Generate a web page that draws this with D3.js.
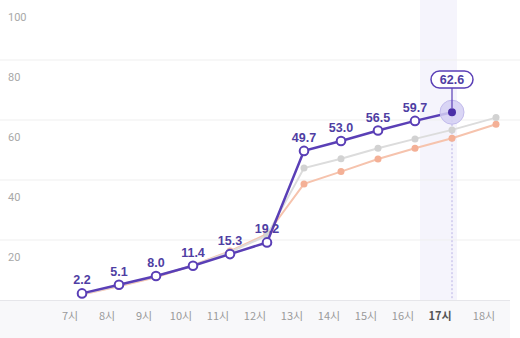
<!DOCTYPE html>
<html><head><meta charset="utf-8">
<script src="https://cdn.jsdelivr.net/npm/d3@7"></script>
<style>html,body{margin:0;padding:0;background:#fff;}svg{display:block;}</style>
</head><body>
<svg id="c" width="520" height="338"></svg>
<script>
const hours = ["7시","8시","9시","10시","11시","12시","13시","14시","15시","16시","17시","18시"];
const current = [2.2, 5.1, 8.0, 11.4, 15.3, 19.2, 49.7, 53.0, 56.5, 59.7, 62.6];
const compareGray = [2.0, 4.8, 7.9, 11.5, 16.0, 21.5, 44.0, 47.1, 50.6, 53.7, 56.7, 60.8];
const compareOrange = [1.8, 4.6, 7.6, 11.6, 16.3, 22.0, 38.7, 42.8, 47.0, 50.6, 53.9, 58.6];
const yTicks = [20, 40, 60, 80, 100];
const activeIndex = 10;

const svg = d3.select("#c");
const W = 520, H = 338;
const x = d3.scaleLinear().domain([0, 10, 11]).range([82, 452, 496]);
const y = d3.scaleLinear().domain([0, 100]).range([300, 0]);

// bottom strip
svg.append("rect").attr("x", 0).attr("y", y(0)).attr("width", 510).attr("height", H - y(0)).attr("fill", "#f8f8fa");

// active band
svg.append("rect").attr("x", x(activeIndex) - 32).attr("y", 0).attr("width", 37).attr("height", y(0))
  .attr("fill", "#f5f4fc");

// gridlines
svg.append("g").selectAll("line").data(yTicks.filter(d => d < 100)).join("line")
  .attr("x1", 0).attr("x2", W).attr("y1", d => y(d)).attr("y2", d => y(d))
  .attr("stroke", "#efefef").attr("stroke-width", 1);
svg.append("line").attr("x1", 0).attr("x2", 510).attr("y1", y(0) + 0.5).attr("y2", y(0) + 0.5)
  .attr("stroke", "#e6e6ea");

// y labels
svg.append("g").selectAll("text").data(yTicks).join("text")
  .attr("x", 8).attr("y", d => y(d) + 21)
  .attr("font-family", "Roboto, 'Noto Sans', sans-serif").attr("font-size", 11)
  .attr("fill", "#a8a8a8").text(d => d);

// x labels
svg.append("g").selectAll("text").data(hours).join("text")
  .attr("x", (d, i) => x(i) - 12).attr("y", 320).attr("text-anchor", "middle")
  .attr("font-family", "'Noto Sans CJK KR', sans-serif").attr("font-size", 11)
  .attr("font-weight", (d, i) => i === activeIndex ? "bold" : "normal")
  .attr("fill", (d, i) => i === activeIndex ? "#555" : "#9a9a9a").text(d => d);

// dashed guide
svg.append("line").attr("x1", x(activeIndex)).attr("x2", x(activeIndex))
  .attr("y1", y(current[activeIndex])).attr("y2", y(0))
  .attr("stroke", "#b9b2e6").attr("stroke-dasharray", "2,2").attr("stroke-width", 1);

const line = d3.line().x((d, i) => x(i)).y(d => y(d));

function series(data, color, ptColor, r) {
  svg.append("path").datum(data).attr("d", line).attr("fill", "none")
    .attr("stroke", color).attr("stroke-width", 2);
  svg.append("g").selectAll("circle").data(data).join("circle")
    .attr("cx", (d, i) => x(i)).attr("cy", d => y(d)).attr("r", 3.5).attr("fill", ptColor);
}
series(compareOrange, "#f6c3ad", "#f4b096");
series(compareGray, "#dcdcdc", "#d2d2d2");

// current line
svg.append("path").datum(current).attr("d", line).attr("fill", "none")
  .attr("stroke", "#5a3fb6").attr("stroke-width", 2.5);

// value labels
svg.append("g").selectAll("text").data(current.slice(0, activeIndex)).join("text")
  .attr("x", (d, i) => x(i)).attr("y", d => y(d) - 9).attr("text-anchor", "middle")
  .attr("font-family", "'Liberation Sans', Arial, sans-serif").attr("font-size", 12.5)
  .attr("font-weight", "bold").attr("fill", "#4f3ea3").text(d => d.toFixed(1));

svg.append("g").selectAll("circle").data(current.slice(0, activeIndex)).join("circle")
  .attr("cx", (d, i) => x(i)).attr("cy", d => y(d)).attr("r", 4.3)
  .attr("fill", "#fff").attr("stroke", "#5a3fb6").attr("stroke-width", 2);

// active point
const ax = x(activeIndex), ay = y(current[activeIndex]);
svg.append("circle").attr("cx", ax).attr("cy", ay).attr("r", 12)
  .attr("fill", "#d4cff3").attr("fill-opacity", 0.85).attr("stroke", "#c2bbec").attr("stroke-width", 1);
svg.append("circle").attr("cx", ax).attr("cy", ay).attr("r", 4).attr("fill", "#4a2fa8");
svg.append("line").attr("x1", ax).attr("x2", ax).attr("y1", 88).attr("y2", ay - 4)
  .attr("stroke", "#5a3fb6").attr("stroke-width", 1.2);
svg.append("rect").attr("x", ax - 21).attr("y", 71).attr("width", 42).attr("height", 17)
  .attr("rx", 8.5).attr("fill", "#fff").attr("stroke", "#5a3fb6").attr("stroke-width", 1.5);
svg.append("text").attr("x", ax).attr("y", 84).attr("text-anchor", "middle")
  .attr("font-family", "'Liberation Sans', Arial, sans-serif").attr("font-size", 12.5)
  .attr("font-weight", "bold").attr("fill", "#4f3ea3").text(current[activeIndex].toFixed(1));
</script>
</body></html>
